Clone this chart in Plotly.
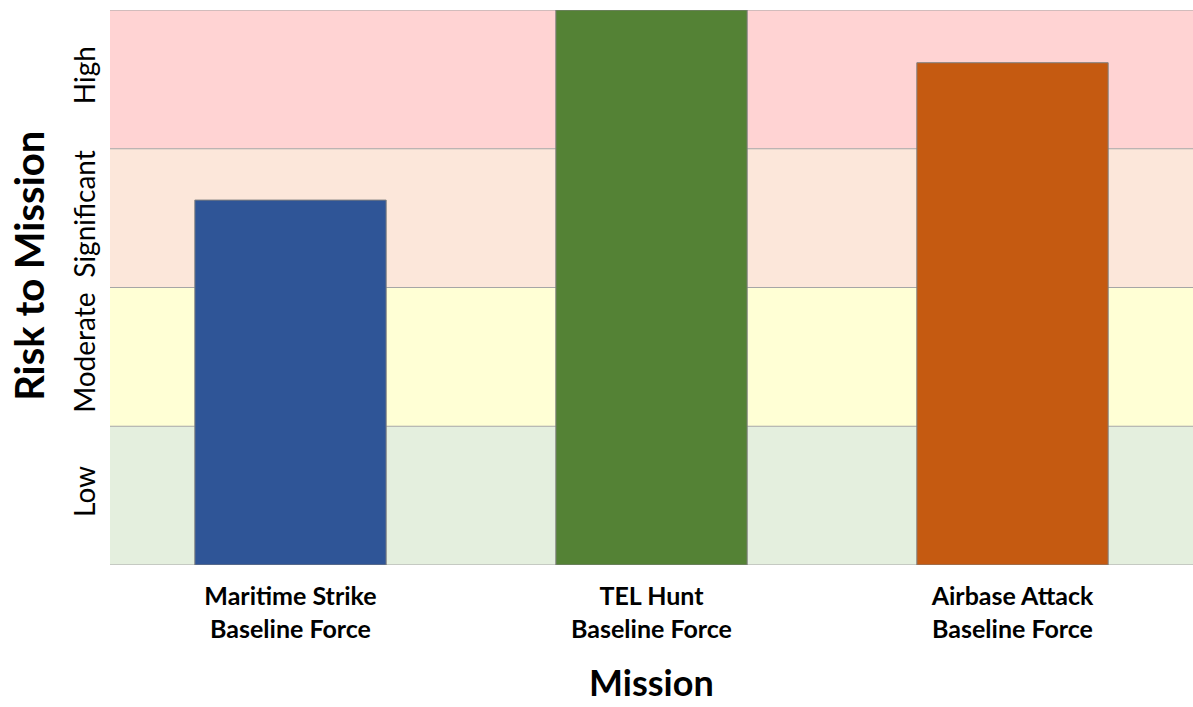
import plotly.graph_objects as go

categories = ["Maritime Strike<br>Baseline Force", "TEL Hunt<br>Baseline Force", "Airbase Attack<br>Baseline Force"]
risk_values = [2.63, 4.0, 3.62]
bar_colors = ["#2F5597", "#548235", "#C55A11"]
band_labels = ["Low", "Moderate", "Significant", "High"]
band_colors = ["#E4EFDE", "#FFFFD5", "#FCE7DA", "#FFD3D3"]

FONT = "Lato"

fig = go.Figure()
fig.add_trace(go.Bar(
    x=categories, y=risk_values,
    marker=dict(color=bar_colors, line=dict(color="#7F7F7F", width=1)),
    width=0.53,
))

for i, c in enumerate(band_colors):
    fig.add_shape(type="rect", xref="paper", x0=0, x1=1, yref="y", y0=i, y1=i + 1,
                  fillcolor=c, line=dict(width=0), layer="below")
for i in range(len(band_colors) + 1):
    fig.add_shape(type="line", xref="paper", x0=0, x1=1, yref="y", y0=i, y1=i,
                  line=dict(color="#A6A6A6", width=1.2), layer="below")

fig.update_layout(
    width=1193, height=707,
    margin=dict(l=110, r=0, t=10, b=142),
    paper_bgcolor="white", plot_bgcolor="white",
    showlegend=False,
    font=dict(family=FONT, color="black"),
)
fig.update_xaxes(
    range=[-0.5, 2.5], showgrid=False, zeroline=False, showline=False, ticks="",
    tickfont=dict(family=FONT, size=25, color="black", weight="bold"),
    ticklabelstandoff=14,
)
fig.update_yaxes(
    range=[0, 4], showgrid=False, zeroline=False, showline=False, ticks="",
    tickmode="array", tickvals=[0.5, 1.5, 2.5, 3.5], ticktext=band_labels,
    tickangle=-90,
    tickfont=dict(family=FONT, size=28, color="black"),
    ticklabelstandoff=8,
)
fig.add_annotation(
    text="<b>Risk to Mission</b>", xref="paper", yref="paper", x=0, y=0.539,
    xanchor="center", yanchor="middle", xshift=-81, textangle=-90, showarrow=False,
    font=dict(family=FONT, size=40, color="black"),
)
fig.add_annotation(
    text="<b>Mission</b>", xref="paper", yref="paper", x=0.5, y=0,
    xanchor="center", yanchor="middle", yshift=-117, showarrow=False,
    font=dict(family=FONT, size=36, color="black"),
)

fig.write_html("out.html")
